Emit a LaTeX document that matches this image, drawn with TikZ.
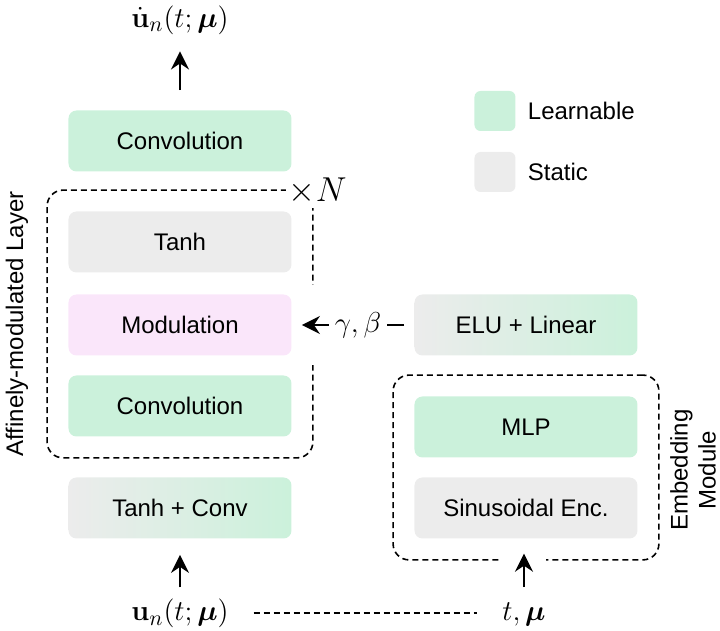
\documentclass[tikz,border=0pt]{standalone}
\usepackage[no-math]{fontspec}
\setmainfont{Liberation Sans}
\usepackage{amsmath,bm}
\usetikzlibrary{arrows.meta,fit}

\definecolor{learncol}{RGB}{203,241,219}
\definecolor{staticcol}{RGB}{236,236,236}
\definecolor{modcol}{RGB}{250,230,250}

\tikzset{
    block/.style={rectangle, rounded corners=4pt, minimum width=111.5pt, minimum height=30.5pt},
    learnbox/.style={block, fill=learncol},
    staticbox/.style={block, fill=staticcol},
    mixbox/.style={block, left color=staticcol, right color=learncol},
    framebox/.style={draw, line width=0.8pt, dash pattern=on 3pt off 2pt, rounded corners=8pt, inner sep=10.5pt},
    flow/.style={-{Stealth[length=9pt,width=9pt,inset=3pt]}, line width=1pt},
    gapline/.style={preaction={draw=white, -, line width=#1}},
    mathlbl/.style={font=\fontsize{15}{18}\selectfont},
    keybox/.style={rectangle, rounded corners=3pt, minimum width=20.5pt, minimum height=20pt},
}

\begin{document}
\begin{tikzpicture}[x=0.5pt, y=-0.5pt, font=\fontsize{12}{14}\selectfont]
    \useasboundingbox (0,0) rectangle (720,631);

    % main stack
    \node[learnbox] (convout) at (180,141) {Convolution};
    \node[staticbox] (tanh) at (180,242) {Tanh};
    \node[block, fill=modcol] (modul) at (180,325) {Modulation};
    \node[learnbox] (convin) at (180,406) {Convolution};
    \node[mixbox] (lift) at (180,508) {Tanh + Conv};

    % embedding
    \node[mixbox] (elu) at (526,325) {ELU + Linear};
    \node[learnbox] (mlp) at (526,427) {MLP};
    \node[staticbox] (sinenc) at (526,508) {Sinusoidal Enc.};

    \node[framebox, fit=(tanh)(convin)] (layer) {};
    \node[framebox, fit=(mlp)(sinenc)] (embed) {};
    \node[font=\fontsize{17}{20}\selectfont, fill=white, inner sep=1.5pt] (times) at ([xshift=2pt,yshift=-1pt]layer.north east) {$\times N$};

    \node[rotate=90] (layerlbl) at (17,324) {Affinely-modulated Layer};
    \node[rotate=90, align=center] (embedlbl) at (693,470) {Embedding\\Module};

    % legend
    \node[keybox, fill=learncol] (keylearn) at (495,111) {};
    \node[anchor=west] (keylearntxt) at ([xshift=2.5pt]keylearn.east) {Learnable};
    \node[keybox, fill=staticcol] (keystatic) at (495,172) {};
    \node[anchor=west] (keystatictxt) at ([xshift=2.5pt]keystatic.east) {Static};

    % inputs and output
    \node[mathlbl] (out) at (180,20) {$\dot{\mathbf{u}}_n(t;\bm{\mu})$};
    \node[mathlbl, anchor=base] (uin) at (180,621) {$\mathbf{u}_n(t;\bm{\mu})$};
    \node[mathlbl, anchor=base] (tmu) at (524,621) {$t,\bm{\mu}$};

    \draw[flow, shorten <=10pt, shorten >=5pt] (convout.north) -- (out.south);
    \draw[flow, shorten <=2.5pt, shorten >=8pt] (uin.north) -- (lift.south);
    \draw[flow, gapline=22pt, shorten <=4.5pt, shorten >=-3.5pt] (tmu.north) -- (tmu.north |- embed.south);
    \draw[flow, gapline=40pt, shorten <=5pt] (elu.west) -- node[mathlbl, fill=white, inner sep=3pt] {$\gamma,\beta$} ([xshift=5pt]modul.east);
    \draw[line width=0.8pt, dash pattern=on 3pt off 2pt, shorten <=9pt, shorten >=9pt]
        ([yshift=4pt]uin.base east) -- ([yshift=4pt]tmu.base west);
\end{tikzpicture}
\end{document}
